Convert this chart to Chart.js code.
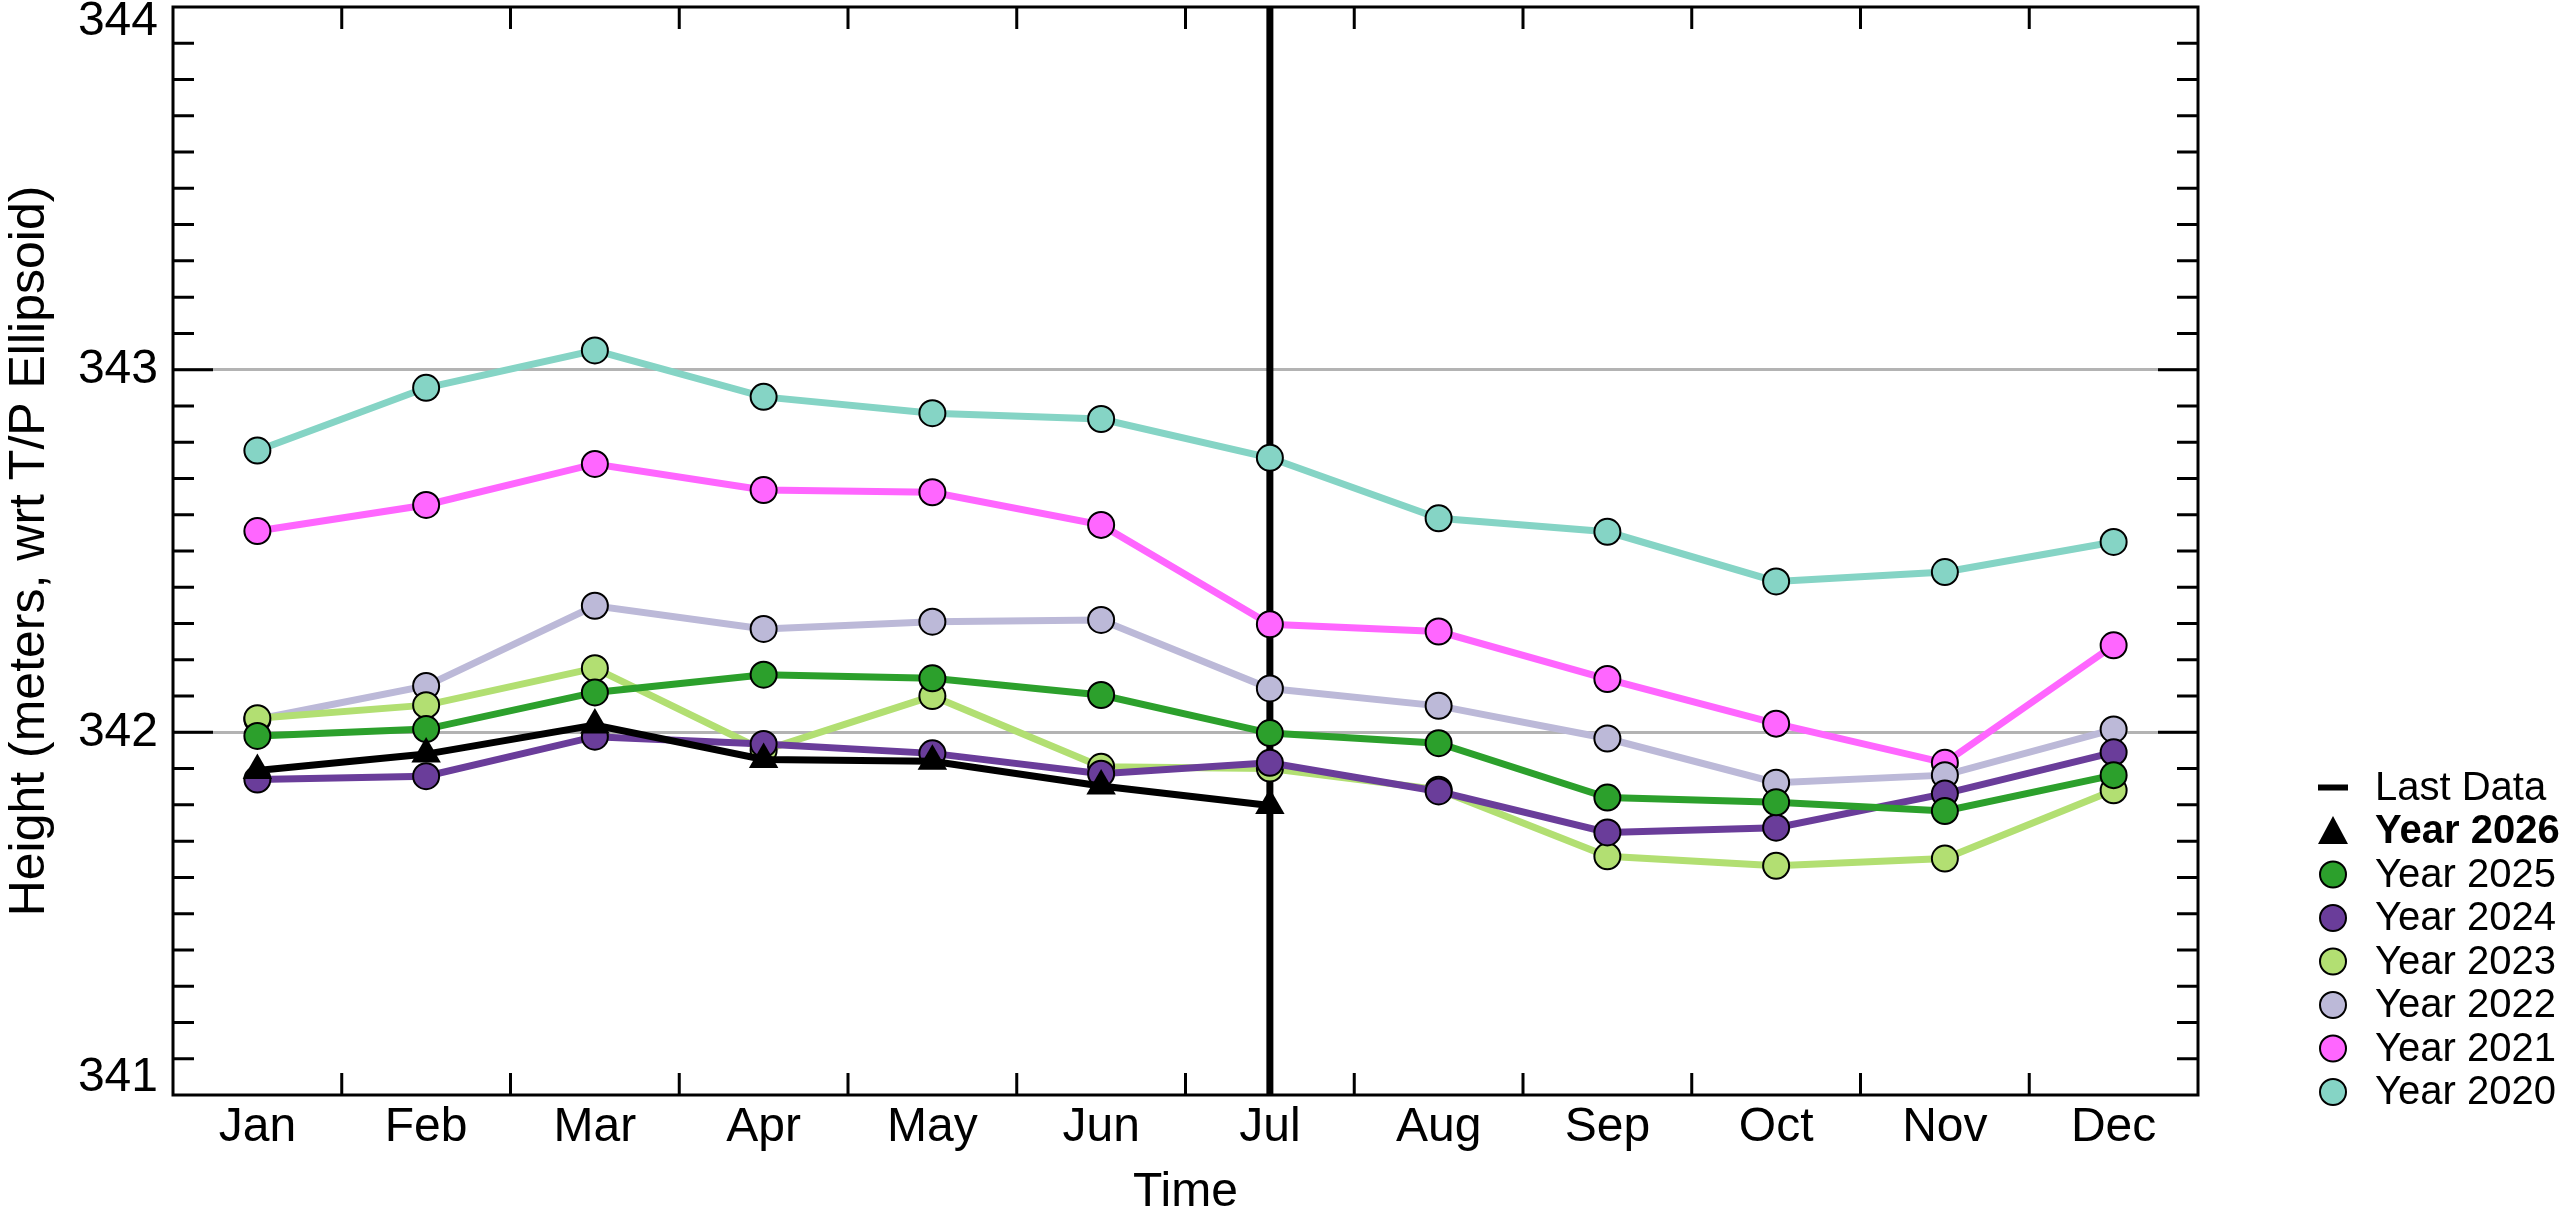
<!DOCTYPE html>
<html>
<head>
<meta charset="utf-8">
<script src="https://cdn.jsdelivr.net/npm/chart.js@4/dist/chart.umd.min.js"></script>
<style>
html,body{margin:0;padding:0;background:#fff;}
#wrap{width:2559px;height:1213px;position:relative;}
</style>
</head>
<body>
<div id="wrap"><canvas id="c"></canvas></div>
<script>
// ---- data ----
const months = ['Jan','Feb','Mar','Apr','May','Jun','Jul','Aug','Sep','Oct','Nov','Dec'];
const year2026 = [341.895, 341.940, 342.020, 341.925, 341.920, 341.852, 341.798, null, null, null, null, null];
const year2025 = [341.990, 342.009, 342.110, 342.159, 342.149, 342.103, 341.998, 341.970, 341.820, 341.807, 341.783, 341.882];
const year2024 = [341.870, 341.879, 341.988, 341.968, 341.942, 341.886, 341.916, 341.837, 341.724, 341.737, 341.831, 341.945];
const year2023 = [342.039, 342.075, 342.177, 341.950, 342.100, 341.905, 341.900, 341.842, 341.658, 341.632, 341.652, 341.840];
const year2022 = [342.036, 342.128, 342.349, 342.285, 342.305, 342.310, 342.121, 342.073, 341.983, 341.861, 341.882, 342.008];
const year2021 = [342.555, 342.627, 342.740, 342.668, 342.662, 342.572, 342.298, 342.278, 342.147, 342.024, 341.916, 342.240];
const year2020 = [342.777, 342.950, 343.053, 342.925, 342.880, 342.864, 342.757, 342.590, 342.553, 342.416, 342.442, 342.525];
const yTicks = [341, 342, 343, 344];
const lastDataMonth = 'Jul';
const legendLabels = ['Last Data','Year 2026','Year 2025','Year 2024','Year 2023','Year 2022','Year 2021','Year 2020'];

const FONT = "'Liberation Sans', Arial, Helvetica, sans-serif";
Chart.defaults.font.family = FONT;
Chart.defaults.color = '#000';

function ds(label, data, color, style) {
  const tri = style === 'triangle';
  return {
    label, data,
    borderColor: color,
    backgroundColor: color,
    borderWidth: 7,
    pointStyle: tri ? 'triangle' : 'circle',
    pointRadius: tri ? 17 : 13,
    pointBorderColor: '#000',
    pointBorderWidth: tri ? 0 : 2,
    pointBackgroundColor: color,
    tension: 0,
    spanGaps: false
  };
}

const datasets = [
  ds('Year 2026', year2026, '#000000', 'triangle'),
  ds('Year 2025', year2025, '#2ca02c'),
  ds('Year 2024', year2024, '#6a3d9a'),
  ds('Year 2023', year2023, '#b2df72'),
  ds('Year 2022', year2022, '#bcb9d8'),
  ds('Year 2021', year2021, '#ff66ff'),
  ds('Year 2020', year2020, '#85d4c5')
];

// shift the extreme y labels inside the frame
const labelShift = {
  id: 'labelShift',
  beforeDraw(chart) {
    const s = chart.scales.y;
    if (!s.getLabelItems) return;
    const items = s.getLabelItems(chart.chartArea);
    items.forEach((it, i) => {
      const t = s.ticks[i];
      if (!t || !it.options || !it.options.translation) return;
      if (t.value === s.max) it.options.translation[1] += 15;
      if (t.value === s.min) it.options.translation[1] -= 17;
    });
  }
};

// vertical line for the last data month (beneath the series)
const lastLine = {
  id: 'lastLine',
  beforeDatasetsDraw(chart) {
    const {ctx, chartArea, scales} = chart;
    const x = scales.x.getPixelForValue(months.indexOf(lastDataMonth));
    ctx.save();
    ctx.strokeStyle = '#000';
    ctx.lineWidth = 7;
    ctx.beginPath();
    ctx.moveTo(x, chartArea.top);
    ctx.lineTo(x, chartArea.bottom);
    ctx.stroke();
    ctx.restore();
  }
};

// frame + inward tick marks
const frame = {
  id: 'frame',
  afterDatasetsDraw(chart) {
    const {ctx, chartArea: a, scales} = chart;
    ctx.save();
    ctx.strokeStyle = '#000';
    ctx.lineWidth = 3;
    ctx.beginPath();
    for (let k = 3411; k < 3440; k++) {
      const y = scales.y.getPixelForValue(k / 10);
      const len = (k % 10 === 0) ? 40 : 21;
      ctx.moveTo(a.left, y); ctx.lineTo(a.left + len, y);
      ctx.moveTo(a.right, y); ctx.lineTo(a.right - len, y);
    }
    for (let i = 0; i < months.length - 1; i++) {
      const x = (scales.x.getPixelForValue(i) + scales.x.getPixelForValue(i + 1)) / 2;
      ctx.moveTo(x, a.bottom); ctx.lineTo(x, a.bottom - 22);
      ctx.moveTo(x, a.top); ctx.lineTo(x, a.top + 22);
    }
    ctx.stroke();
    ctx.strokeRect(a.left, a.top, a.right - a.left, a.bottom - a.top);
    ctx.restore();
  }
};

// legend on the right, bottom-aligned with the plot
const sideLegend = {
  id: 'sideLegend',
  afterDraw(chart) {
    const {ctx, chartArea: a} = chart;
    const mx = a.right + 135, tx = a.right + 177;
    const step = 43.5;
    const y0 = a.bottom - 3 - step * (legendLabels.length - 1);
    ctx.save();
    ctx.textBaseline = 'middle';
    ctx.textAlign = 'left';
    legendLabels.forEach((lab, i) => {
      const y = y0 + i * step;
      ctx.fillStyle = '#000';
      ctx.font = (i === 1 ? 'bold ' : '') + '40px ' + FONT;
      ctx.fillText(lab, tx, y + 1);
      if (i === 0) {
        ctx.fillRect(mx - 15, y - 3, 30, 6);
      } else if (i === 1) {
        ctx.beginPath();
        ctx.moveTo(mx, y - 15);
        ctx.lineTo(mx + 15, y + 13);
        ctx.lineTo(mx - 15, y + 13);
        ctx.closePath();
        ctx.fill();
      } else {
        const d = chart.data.datasets[i - 1];
        ctx.beginPath();
        ctx.arc(mx, y, 13, 0, Math.PI * 2);
        ctx.fillStyle = d.backgroundColor;
        ctx.fill();
        ctx.lineWidth = 2;
        ctx.strokeStyle = '#000';
        ctx.stroke();
      }
    });
    ctx.restore();
  }
};

new Chart(document.getElementById('c'), {
  type: 'line',
  data: { labels: months, datasets },
  options: {
    responsive: true,
    maintainAspectRatio: false,
    devicePixelRatio: 1,
    animation: false,
    events: [],
    layout: { autoPadding: false, padding: { left: 0, top: 7, right: 361, bottom: 0 } },
    plugins: { legend: { display: false }, tooltip: { enabled: false } },
    scales: {
      x: {
        type: 'category',
        offset: true,
        grid: { display: false, drawTicks: false },
        border: { display: false },
        ticks: { font: { size: 48 }, color: '#000', padding: 4, maxRotation: 0, autoSkip: false },
        title: { display: true, text: 'Time', font: { size: 48, lineHeight: 0.85 }, color: '#000', padding: 0 },
        afterFit(s) { s.height = 118; s.paddingLeft = 0; s.paddingRight = 0; s.paddingTop = 0; s.paddingBottom = 0; }
      },
      y: {
        min: 341, max: 344,
        afterBuildTicks(s) { s.ticks = yTicks.map(v => ({ value: v })); },
        grid: {
          drawTicks: false,
          lineWidth: 3,
          color: (c) => (c.tick && (c.tick.value === 342 || c.tick.value === 343)) ? '#b3b3b3' : 'rgba(0,0,0,0)'
        },
        border: { display: false },
        ticks: { font: { size: 48 }, color: '#000', padding: 15 },
        title: { display: true, text: 'Height (meters, wrt T/P Ellipsoid)', font: { size: 50 }, color: '#000', padding: 0 },
        afterFit(s) { s.width = 173; s.paddingLeft = 0; s.paddingRight = 0; s.paddingTop = 0; s.paddingBottom = 0; }
      }
    }
  },
  plugins: [labelShift, lastLine, frame, sideLegend]
});
</script>
</body>
</html>
